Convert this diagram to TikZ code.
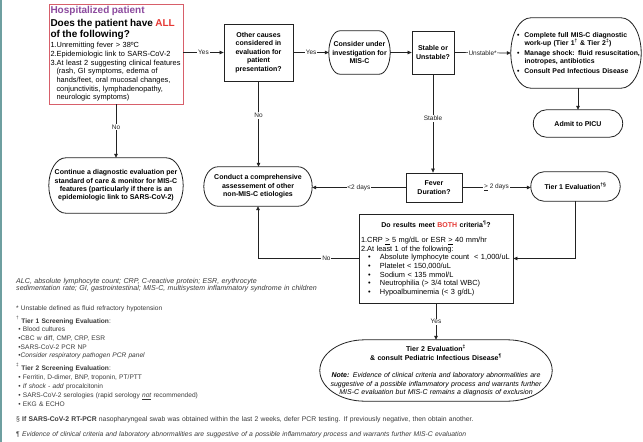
\documentclass[tikz,border=0pt]{standalone}
\usepackage{fontspec}
\setmainfont{Liberation Sans}
\usetikzlibrary{arrows.meta,calc}
\definecolor{lc}{HTML}{222222}
\definecolor{purp}{HTML}{8C4A9E}
\definecolor{ared}{HTML}{E53935}
\definecolor{bred}{HTML}{D75F6A}
\definecolor{edgeteal}{HTML}{6E9FA0}
\definecolor{fn}{HTML}{3A3A3A}
\newcommand\fsz[2]{\fontsize{#1}{#2}\selectfont}
\newcommand\termoutline[2]{%
  \draw[outl] ($(#1.north west)+(#2,0)$) -- ($(#1.north east)+(-#2,0)$)
    .. controls ($(#1.north east)+(-0.448*#2,0)$) and ($(#1.east)!0.552!(#1.north east)$) .. (#1.east)
    .. controls ($(#1.east)!0.552!(#1.south east)$) and ($(#1.south east)+(-0.448*#2,0)$) .. ($(#1.south east)+(-#2,0)$)
    -- ($(#1.south west)+(#2,0)$)
    .. controls ($(#1.south west)+(0.448*#2,0)$) and ($(#1.west)!0.552!(#1.south west)$) .. (#1.west)
    .. controls ($(#1.west)!0.552!(#1.north west)$) and ($(#1.north west)+(0.448*#2,0)$) .. cycle;}
\newcommand\bul[1]{\makebox[#1][l]{•}}
\begin{document}
\begin{tikzpicture}[x=1pt,y=-1pt,
  box/.style={draw=lc, line width=0.8pt, inner sep=2pt, align=center, font=\fsz{7}{8.6}\bfseries},
  term/.style={draw=none, inner sep=1pt, align=center, font=\fsz{7}{8.6}\bfseries},
  outl/.style={draw=lc, line width=0.8pt},
  arr/.style={draw=lc, line width=0.7pt, -{Triangle[length=4pt,width=3.6pt]}},
  lab/.style={fill=white, inner sep=0.8pt, font=\fsz{6.5}{7}, text=lc},
  fnote/.style={anchor=base west, inner sep=0pt, text=fn, align=left, text width=620pt, font=\fsz{6.6}{8.7}}]
\fill[white] (0,0) rectangle (643,442);
\useasboundingbox (0,0) rectangle (643,442);
\fill[edgeteal] (0,0) rectangle (1.8,442);

% boxes
\node[box, draw=bred, minimum width=134pt, minimum height=100pt, text width=131pt, inner sep=1.5pt, align=left, font=\fsz{7.4}{8.7}\mdseries] (b1) at (116,54) {%
{\fsz{10}{11}\bfseries\color{purp}Hospitalized patient\par}\vspace{2pt}
{\fsz{10}{11}\bfseries Does the patient have {\color{ared}ALL}\\of the following?\par}\vspace{1.3pt}
1.Unremitting fever > 38ºC\\
2.Epidemiologic link to SARS-CoV-2\\
3.At least 2 suggesting clinical features\\
\hspace*{6pt}(rash, GI symptoms, edema of\\
\hspace*{6pt}hands/feet, oral mucosal changes,\\
\hspace*{6pt}conjunctivitis, lymphadenopathy,\\
\hspace*{6pt}neurologic symptoms)};

\node[box, minimum width=69pt, minimum height=57pt] (b2) at (258.5,52.5)
  {Other causes\\considered in\\evaluation for\\patient\\presentation?};

\node[term, minimum width=61pt, minimum height=43pt] (c1) at (359.5,52.5)
  {Consider under\\investigation for\\MIS-C};

\node[box, minimum width=42pt, minimum height=43pt] (s1) at (433,52.5)
  {Stable or\\Unstable?};

\node[term, minimum width=130pt, minimum height=70pt, text width=128pt, align=left, font=\fsz{6.9}{8.2}\bfseries] (n1) at (576,53) {%
\mbox{\hspace*{5pt}\bul{7.5pt}Complete full MIS-C diagnostic}\\\mbox{\hspace*{12.5pt}work-up (Tier 1\textsuperscript{†} \& Tier 2\textsuperscript{‡})}\par\vspace{1.5pt}
\mbox{\hspace*{5pt}\bul{7.5pt}Manage shock: fluid resuscitation,}\\\mbox{\hspace*{12.5pt}inotropes, antibiotics}\par\vspace{1.5pt}
\mbox{\hspace*{5pt}\bul{7.5pt}Consult Ped Infectious Disease}};

\node[term, minimum width=89pt, minimum height=27pt] (admit) at (578,123.5) {Admit to PICU};

\node[term, minimum width=134pt, minimum height=55pt, font=\fsz{7}{8.4}\bfseries] (cont) at (116,185.5)
  {Continue a diagnostic evaluation per\\standard of care \& monitor for MIS-C\\features (particularly if there is an\\epidemiologic link to SARS-CoV-2)};

\node[term, minimum width=108pt, minimum height=39pt] (cond) at (258,186.5)
  {Conduct a comprehensive\\assessement of other\\non-MIS-C etiologies};

\node[box, minimum width=56pt, minimum height=29pt] (fev) at (434,187.5) {Fever\\Duration?};

\node[term, minimum width=89pt, minimum height=29pt] (t1) at (575.5,186.5) {Tier 1 Evaluation\textsuperscript{†§}};

\node[box, minimum width=154pt, minimum height=89pt, text width=150pt, align=left, font=\fsz{7.4}{8.6}\mdseries] (both) at (436,258.5) {%
{\centering\fsz{7}{8.6}\bfseries Do results meet {\color{ared}BOTH} criteria\textsuperscript{¶}?\par}\vspace{6.4pt}
1.CRP \underline{>} 5 mg/dL or ESR \underline{>} 40 mm/hr\\
2.At least 1 of the following:\\
\hspace*{7pt}\bul{12pt}Absolute lymphocyte count\ \ < 1,000/uL\\
\hspace*{7pt}\bul{12pt}Platelet < 150,000/uL\\
\hspace*{7pt}\bul{12pt}Sodium < 135 mmol/L\\
\hspace*{7pt}\bul{12pt}Neutrophilia (> 3/4 total WBC)\\
\hspace*{7pt}\bul{12pt}Hypoalbuminemia (< 3 g/dL)};

\node[term, minimum width=232pt, minimum height=61pt, text width=226pt, font=\fsz{7}{8.2}] (t2) at (436,370.5) {%
{\bfseries Tier 2 Evaluation\textsuperscript{‡}\\\& consult Pediatric Infectious Disease\textsuperscript{¶}\par}\vspace{9.6pt}
{\itshape\textbf{Note:} Evidence of clinical criteria and laboratory abnormalities are\\suggestive of a possible inflammatory process and warrants further\\MIS-C evaluation but MIS-C remains a diagnosis of exclusion\par}};

% outlines of terminal shapes
\termoutline{c1}{11}
\termoutline{n1}{20}
\termoutline{admit}{13}
\termoutline{cont}{17}
\termoutline{cond}{14}
\termoutline{t1}{13}
\termoutline{t2}{45}

% connectors
\draw[arr] (b1.east |- b2.west) -- node[lab]{Yes} (b2.west);
\draw[arr] (b2.east) -- node[lab]{Yes} (c1.west);
\draw[arr] (c1.east) -- (s1.west);
\draw[arr] (s1.east) -- node[lab]{Unstable*} (n1.west);
\draw[arr] (admit.north |- n1.south) -- (admit.north);
\draw[arr] (s1.south) -- node[lab, pos=0.45]{Stable} (s1.south |- fev.north);
\draw[arr] (fev.west) -- node[lab]{<2 days} (cond.east |- fev.west);
\draw[arr] (fev.east) -- node[lab]{\underline{>} 2 days} (t1.west |- fev.east);
\draw[arr] (t1.south) |- (both.east);
\draw[arr] (both.west) -- node[lab, pos=0.32]{No} (cond.south |- both.west) -- (cond.south);
\draw[arr] (b2.south) -- node[lab, pos=0.4]{No} (b2.south |- cond.north);
\draw[arr] (b1.south) -- node[lab, pos=0.42]{No} (cont.north);
\draw[arr] (both.south) -- node[lab]{Yes} (t2.north);

% footnotes
\node[fnote, font=\fsz{7.1}{7}\itshape] (fa) at (16,283)
  {ALC, absolute lymphocyte count; CRP, C-reactive protein; ESR, erythrocyte\\sedimentation rate; GI, gastrointestinal; MIS-C, multisystem inflammatory syndrome in children};
\node[fnote] (fb) at (16,310) {* Unstable defined as fluid refractory hypotension};
\node[fnote] (fc) at (16,323)
  {\textsuperscript{†} \textbf{Tier 1 Screening Evaluation}:\\
   \ • Blood cultures\\
   \ •CBC w diff, CMP, CRP, ESR\\
   \ •SARS-CoV-2 PCR NP\\
   \ •\textit{Consider respiratory pathogen PCR panel}};
\node[fnote, font=\fsz{6.6}{9.2}] (fd) at (16,370)
  {\textsuperscript{‡} \textbf{Tier 2 Screening Evaluation}:\\
   \ • Ferritin, D-dimer, BNP, troponin, PT/PTT\\
   \ • \textit{If shock - add} procalcitonin\\
   \ • SARS-CoV-2 serologies (rapid serology \textit{\underline{not}} recommended)\\
   \ • EKG \& ECHO};
\node[fnote, font=\fsz{6.8}{8.7}] (fe) at (16,421)
  {§ \textbf{If SARS-CoV-2 RT-PCR} nasopharyngeal swab was obtained within the last 2 weeks, defer PCR testing. If previously negative, then obtain another.};
\node[fnote, font=\fsz{6.8}{8.7}] (ff) at (16,436)
  {¶ \textit{Evidence of clinical criteria and laboratory abnormalities are suggestive of a possible inflammatory process and warrants further MIS-C evaluation}};
\end{tikzpicture}
\end{document}
